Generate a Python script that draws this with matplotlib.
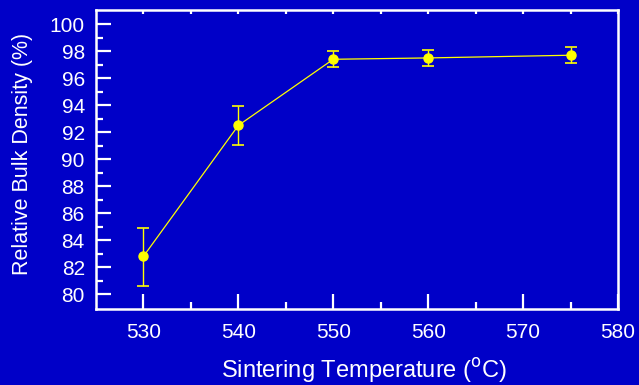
import matplotlib.pyplot as plt

# Data
temperature = [530, 540, 550, 560, 575]
density = [82.8, 92.5, 97.4, 97.5, 97.7]
err_low = [2.2, 1.45, 0.6, 0.6, 0.6]
err_high = [2.1, 1.45, 0.65, 0.6, 0.6]

x_ticks = [530, 540, 550, 560, 570, 580]
y_ticks = [80, 82, 84, 86, 88, 90, 92, 94, 96, 98, 100]

bg = '#0000c8'
plt.rcParams['font.family'] = ['Liberation Sans', 'DejaVu Sans']

fig = plt.figure(figsize=(6.39, 3.85), dpi=100, facecolor=bg)
ax = fig.add_axes([0.1502, 0.1974, 0.8169, 0.7766])
ax.set_facecolor(bg)

ax.errorbar(temperature, density, yerr=[err_low, err_high], color='#ffff00',
            linewidth=0.9, marker='o', markersize=6.5, elinewidth=1.0,
            capsize=4.5, capthick=1.2)

ax.set_xlim(525, 580)
ax.set_ylim(78.9, 101.05)
ax.set_xticks(x_ticks)
ax.set_yticks(y_ticks)
ax.set_xticks(range(535, 580, 10), minor=True)
ax.set_yticks(range(81, 101, 2), minor=True)

for s in ax.spines.values():
    s.set_color('white')
    s.set_linewidth(1.8)

ax.tick_params(which='both', direction='in', colors='white', labelsize=15, width=1.6)
ax.tick_params(axis='y', which='major', length=11, pad=8, right=False)
ax.tick_params(axis='y', which='minor', length=5, right=False)
ax.tick_params(axis='x', which='major', length=11, pad=10, top=False)
ax.tick_params(axis='x', which='minor', length=5, top=False)

# small ticks along the top spine
top = ax.secondary_xaxis('top')
top.set_xticks(x_ticks)
top.set_xticks(range(535, 580, 10), minor=True)
top.tick_params(which='both', direction='in', colors='white', length=3, width=1.6,
                labeltop=False)
top.spines['top'].set_visible(False)

ax.set_xlabel('Sintering Temperature ($^{\\mathrm{o}}$C)', color='white', fontsize=17)
ax.xaxis.set_label_coords(0.514, -0.158, transform=ax.transAxes)
ax.set_ylabel('Relative Bulk Density (%)', color='white', fontsize=15.5)
ax.yaxis.set_label_coords(-0.12, 0.52, transform=ax.transAxes)

fig.savefig('out.png', dpi=100, facecolor=bg)
plt.close(fig)
